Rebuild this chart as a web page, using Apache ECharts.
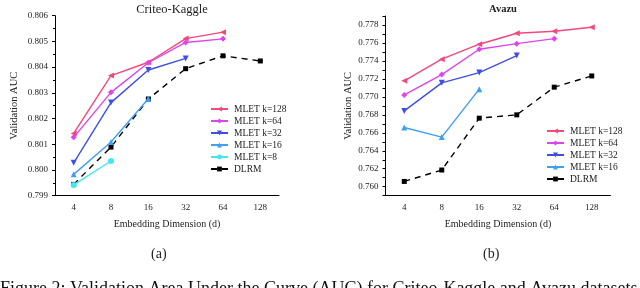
<!DOCTYPE html>
<html><head><meta charset="utf-8">
<script src="https://cdn.jsdelivr.net/npm/echarts@6/dist/echarts.min.js"></script>
<style>html,body{margin:0;padding:0;background:#fff}#c{width:640px;height:288px}</style>
</head><body><div id="c"></div>
<script>
const dims = ['4', '8', '16', '32', '64', '128'];
// Criteo-Kaggle
const ck128 = [0.80142, 0.80367, 0.80419, 0.80511, 0.80536, null];
const ck64  = [0.80127, 0.80302, 0.80417, 0.80496, 0.80510, null];
const ck32  = [0.80028, 0.80262, 0.80389, 0.80434, null, null];
const ck16  = [0.79983, 0.80109, 0.80277, null, null, null];
const ck8   = [0.79942, 0.80035, null, null, null, null];
const ckDlrm = [0.79944, 0.80089, 0.80276, 0.80394, 0.80444, 0.80424];
// Avazu
const av128 = [0.77178, 0.77419, 0.77586, 0.77708, 0.77730, 0.77774];
const av64  = [0.77022, 0.77248, 0.77530, 0.77592, 0.77648, null];
const av32  = [0.76844, 0.77156, 0.77270, 0.77459, null, null];
const av16  = [0.76659, 0.76552, 0.77086, null, null, null];
const avDlrm = [0.76059, 0.76186, 0.76763, 0.76800, 0.77108, 0.77233];

const FONT = 'Liberation Serif';
const colors = {k128:'#f4487c', k64:'#dd44ee', k32:'#3f4fe6', k16:'#3fa0f2', k8:'#42e6f2', dlrm:'#000'};

function mk(name, data, color, symbol, rot, xi, dashed){
  return {
    name, type:'line', data, xAxisIndex:xi, yAxisIndex:xi,
    symbol, symbolSize: symbol==='rect'?5:6, symbolRotate: rot,
    itemStyle:{color}, lineStyle:{color, width: 1.4, type: dashed ? [6,5] : 'solid'},
    connectNulls:false, animation:false, z: dashed?1:2
  };
}

const xAxisBase = (gi, name) => ({
  type:'category', gridIndex:gi, data:dims, boundaryGap:true,
  name, nameLocation:'middle', nameGap:24,
  nameTextStyle:{fontFamily:FONT, fontSize:10, color:'#222'},
  axisLine:{lineStyle:{color:'#000', width:1}},
  axisTick:{alignWithLabel:true, length:3, lineStyle:{color:'#000'}},
  axisLabel:{fontFamily:FONT, fontSize:9, color:'#222', margin:7},
  splitLine:{show:false}
});

const chart = echarts.init(document.getElementById('c'), null, {renderer:'canvas'});
chart.setOption({
  animation:false,
  backgroundColor:'#fff',
  title:[
    {text:'Criteo-Kaggle', left:167, top:-2, textAlign:'center', textStyle:{fontFamily:FONT, fontSize:12.5, fontWeight:'normal', color:'#222'}},
    {text:'Avazu', left:498, top:-1, textAlign:'center', textStyle:{fontFamily:FONT, fontSize:10.5, fontWeight:'bold', color:'#222'}}
  ],
  grid:[
    {left:55, top:15.7, width:224, height:180, containLabel:false},
    {left:385.5, top:16, width:225, height:179.7, containLabel:false}
  ],
  legend:[
    {orient:'vertical', left:205, top:99, itemWidth:17, itemHeight:6, itemGap:2,
     data:['MLET k=128','MLET k=64','MLET k=32','MLET k=16','MLET k=8','DLRM'],
     textStyle:{fontFamily:FONT, fontSize:9.5, color:'#222', lineHeight:10, padding:[0,0,0,1]}},
    {orient:'vertical', left:541, top:121, itemWidth:17, itemHeight:6, itemGap:2,
     data:['MLET k=128 ','MLET k=64 ','MLET k=32 ','MLET k=16 ','DLRM '],
     textStyle:{fontFamily:FONT, fontSize:9.5, color:'#222', lineHeight:10, padding:[0,0,0,1]}}
  ],
  xAxis:[xAxisBase(0,'Embedding Dimension (d)'), xAxisBase(1,'Embedding Dimension (d)')],
  yAxis:[
    {type:'value', gridIndex:0, min:0.799, max:0.806, interval:0.001,
     name:'Validation AUC', nameLocation:'middle', nameGap:35,
     nameTextStyle:{fontFamily:FONT, fontSize:10.5, color:'#222'},
     axisLine:{show:true, lineStyle:{color:'#000', width:1}},
     axisTick:{show:true, length:3, lineStyle:{color:'#000'}},
     minorTick:{show:true, splitNumber:2, length:2, lineStyle:{color:'#000'}},
     axisLabel:{fontFamily:FONT, fontSize:9, color:'#222', margin:7, formatter:v=>v.toFixed(3)},
     splitLine:{show:false}},
    {type:'value', gridIndex:1, min:0.759, max:0.779, interval:0.001,
     name:'Validation AUC', nameLocation:'middle', nameGap:32,
     nameTextStyle:{fontFamily:FONT, fontSize:10.5, color:'#222'},
     axisLine:{show:true, lineStyle:{color:'#000', width:1}},
     axisTick:{show:true, length:3, lineStyle:{color:'#000'}},
     axisLabel:{fontFamily:FONT, fontSize:9, color:'#222', margin:7,
       formatter:v=>{const m=Math.round(v*1000); return m%2===0 ? (m/1000).toFixed(3) : '';}},
     splitLine:{show:false}}
  ],
  series:[
    mk('MLET k=128', ck128, colors.k128, 'triangle', 90, 0),
    mk('MLET k=64', ck64, colors.k64, 'diamond', 0, 0),
    mk('MLET k=32', ck32, colors.k32, 'triangle', 180, 0),
    mk('MLET k=16', ck16, colors.k16, 'triangle', 0, 0),
    mk('MLET k=8', ck8, colors.k8, 'circle', 0, 0),
    mk('DLRM', ckDlrm, colors.dlrm, 'rect', 0, 0, true),
    mk('MLET k=128 ', av128, colors.k128, 'triangle', 90, 1),
    mk('MLET k=64 ', av64, colors.k64, 'diamond', 0, 1),
    mk('MLET k=32 ', av32, colors.k32, 'triangle', 180, 1),
    mk('MLET k=16 ', av16, colors.k16, 'triangle', 0, 1),
    mk('DLRM ', avDlrm, colors.dlrm, 'rect', 0, 1, true)
  ],
  graphic:[
    {type:'text', left:151, top:247, style:{text:'(a)', font:'14px "Liberation Serif"', fill:'#222'}},
    {type:'text', left:483, top:247, style:{text:'(b)', font:'14px "Liberation Serif"', fill:'#222'}},
    {type:'text', left:0, top:280.5, style:{text:'Figure 2: Validation Area Under the Curve (AUC) for Criteo-Kaggle and Avazu datasets.', font:'18px "Liberation Serif"', fill:'#111'}}
  ]
});
</script></body></html>
